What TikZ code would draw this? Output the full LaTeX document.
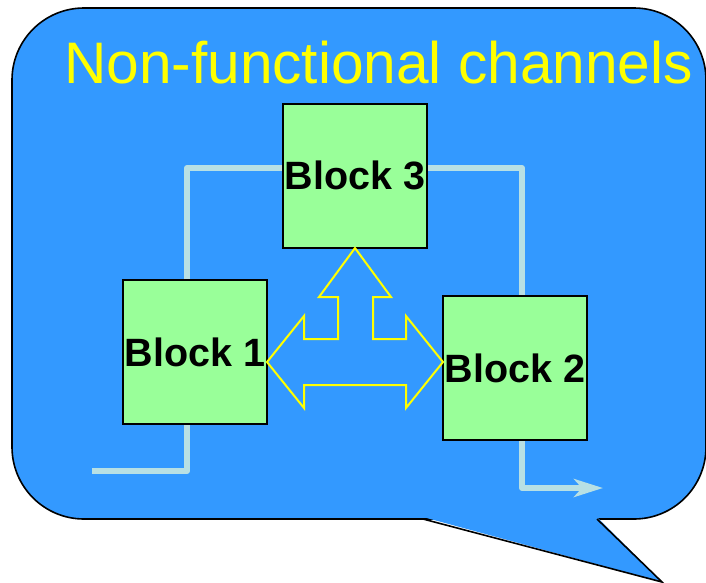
\documentclass[tikz,border=0pt]{standalone}
\usepackage{fontspec}
\setmainfont{Liberation Sans}
\usetikzlibrary{arrows.meta}
\definecolor{bubbleblue}{RGB}{51,153,255}
\definecolor{blockgreen}{RGB}{153,255,153}
\definecolor{chanblue}{RGB}{184,224,228}
\definecolor{sigyellow}{RGB}{255,255,0}
\tikzset{
  bubble/.style={fill=bubbleblue, draw=black, line width=1.6pt},
  blockbox/.style={draw=black, line width=2pt, fill=blockgreen, minimum size=144pt,
    inner sep=0pt, font=\fontsize{39.5}{41}\selectfont\bfseries},
  titletext/.style={text=sigyellow, inner sep=0pt, font=\fontsize{58.6}{60}\selectfont},
  chan/.style={draw=chanblue, line width=6pt, line join=round},
  tri/.style={draw=sigyellow, line width=2pt, line join=miter}
}
\begin{document}
\begin{tikzpicture}[x=1pt, y=-1pt]
  \useasboundingbox (0,0) rectangle (706,582);

  % speech bubble body and tail
  \draw[bubble, rounded corners=72pt] (12,8) rectangle (706,519);
  \fill[bubbleblue] (423,517) -- (662,582) -- (597,517) -- cycle;
  \draw[bubble, fill=none] (423,519) -- (662,582) -- (597,519);

  % heading
  \node[titletext, anchor=base west] (title) at (64,83) {Non-functional channels};

  % the three blocks
  \node[blockbox] (b3) at (355,175.5) {Block 3};
  \node[blockbox] (b1) at (195,352) {Block 1};
  \node[blockbox] (b2) at (515,368) {Block 2};

  % non-functional channels between the blocks
  \coordinate (in) at (92,471);
  \coordinate (out) at (603,488);
  \draw[chan] (in) -| ([xshift=-8pt]b1.south);
  \draw[chan] ([xshift=-8pt]b1.north) |- ([yshift=7.5pt]b3.west);
  \draw[chan] ([yshift=7.5pt]b3.east) -| ([xshift=7pt]b2.north);
  \draw[chan, -{Stealth[length=29pt, width=18pt, inset=8pt]}]
    ([xshift=7pt]b2.south) |- (out);

  % three-way arrow between the blocks
  \draw[tri] (355,248) -- (391,297) -- (373,297) -- (373,339) -- (406,339)
    -- (406,316) -- (443,362) -- (406,408) -- (406,385) -- (304,385)
    -- (304,408) -- (267,362) -- (304,316) -- (304,339) -- (338,339)
    -- (338,297) -- (319,297) -- cycle;
\end{tikzpicture}
\end{document}
